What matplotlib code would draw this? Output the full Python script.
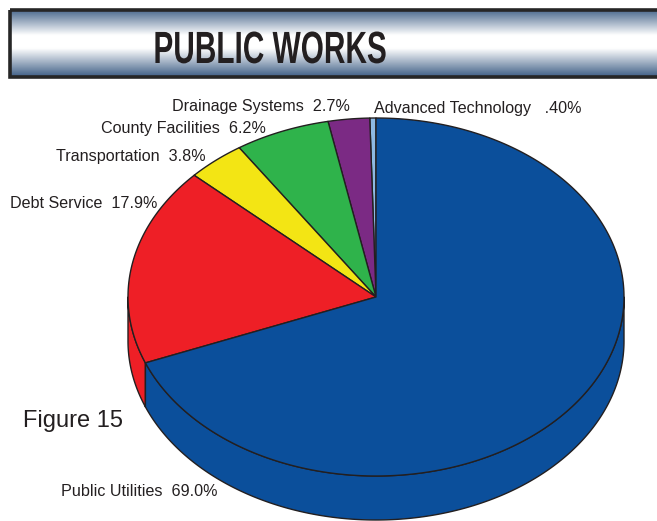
import numpy as np
import matplotlib.pyplot as plt
from matplotlib.patches import Polygon, Rectangle
from matplotlib.colors import LinearSegmentedColormap
from matplotlib.patheffects import AbstractPathEffect
from matplotlib.transforms import Affine2D

# Budget shares, listed counter-clockwise from 12 o'clock
categories = ["Advanced Technology", "Drainage Systems", "County Facilities",
              "Transportation", "Debt Service", "Public Utilities"]
shares = [0.40, 2.7, 6.2, 3.8, 17.9, 69.0]
share_text = [".40%", "2.7%", "6.2%", "3.8%", "17.9%", "69.0%"]
colors = ["#8db9e2", "#7b2a84", "#2fb34b", "#f3e514", "#ee1f26", "#0b4f9b"]
gaps = ["   ", "  ", "  ", "  ", "  ", "  "]

# where each label sits (left edge, vertical centre) in pixels
label_pos = [(374, 109), (172, 107), (101, 128), (56, 157), (10, 203), (61, 492)]

W, H = 657, 521
CX, CY = 376, 297      # centre of the top face
RX, RY = 248, 179      # ellipse radii
DEPTH = 44             # thickness of the pie
EDGE = "#231f20"
TEXT = "#231f20"
TITLE_X = 270


class Squeeze(AbstractPathEffect):
    """Narrows glyphs horizontally about a fixed x (display pixels)."""

    def __init__(self, sx, cx):
        super().__init__()
        self.sx = sx
        self.cx = cx

    def draw_path(self, renderer, gc, tpath, affine, rgbFace=None):
        squeeze = Affine2D().translate(-self.cx, 0).scale(self.sx, 1).translate(self.cx, 0)
        renderer.draw_path(gc, tpath, affine + squeeze, rgbFace)


def arc(a0, a1, dy=0.0, n=240):
    t = np.radians(np.linspace(a0, a1, n))
    return np.column_stack([CX + RX * np.cos(t), CY + dy - RY * np.sin(t)])


fig = plt.figure(figsize=(W / 100, H / 100), dpi=100)
ax = fig.add_axes([0, 0, 1, 1])

# title banner with a steel-blue to white gradient
grad = LinearSegmentedColormap.from_list(
    "banner", [(0.0, "#4d6b8f"), (0.38, "#ffffff"), (0.58, "#ffffff"), (1.0, "#45648a")])
ax.imshow(np.linspace(0, 1, 200).reshape(-1, 1), cmap=grad, aspect="auto",
          extent=(11, 700, 76, 10), zorder=1)
ax.add_patch(Rectangle((10, 9.5), 700, 67, fill=False, ec="#262626", lw=2.6, zorder=2))
ax.text(TITLE_X, 63, "PUBLIC WORKS", ha="center", va="baseline", fontsize=32.5,
        fontweight="bold", color=TEXT, family="Liberation Sans",
        path_effects=[Squeeze(0.66, TITLE_X * fig.dpi / 100)], zorder=3)

bounds = 90 + 3.6 * np.concatenate([[0], np.cumsum(shares)])

# front wall of the pie (only the lower half is visible)
for i in range(len(shares)):
    lo, hi = max(bounds[i], 180), min(bounds[i + 1], 360)
    if hi > lo:
        pts = np.vstack([arc(lo, hi), arc(hi, lo, DEPTH)])
        ax.add_patch(Polygon(pts, closed=True, fc=colors[i], ec=EDGE, lw=1.0,
                             joinstyle="round", zorder=4))

# top face wedges
for i in range(len(shares)):
    pts = np.vstack([[CX, CY], arc(bounds[i], bounds[i + 1])])
    ax.add_patch(Polygon(pts, closed=True, fc=colors[i], ec=EDGE, lw=1.0,
                         joinstyle="round", zorder=5))

for name, txt, gap, (x, y) in zip(categories, share_text, gaps, label_pos):
    ax.text(x, y, name + gap + txt, ha="left", va="center", fontsize=11.6,
            color=TEXT, family="Liberation Sans")

ax.text(23, 421, "Figure 15", ha="left", va="center", fontsize=17,
        color=TEXT, family="Liberation Sans")

ax.set_xlim(0, W)
ax.set_ylim(H, 0)
ax.axis("off")

fig.savefig("out.png", dpi=100)
